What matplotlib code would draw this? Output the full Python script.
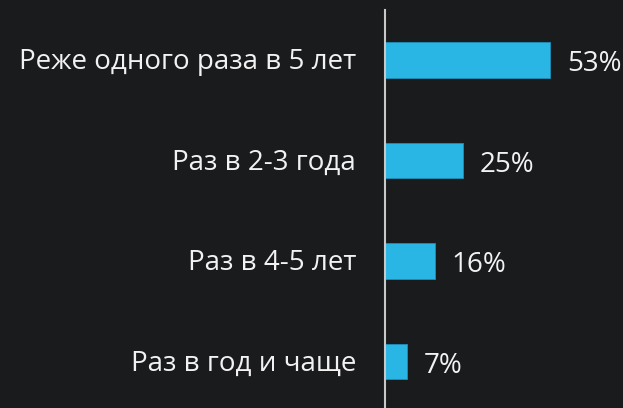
import matplotlib
matplotlib.use("Agg")
import matplotlib.pyplot as plt

categories = ["Реже одного раза в 5 лет", "Раз в 2-3 года", "Раз в 4-5 лет", "Раз в год и чаще"]
values = [53, 25, 16, 7]
labels = ["53%", "25%", "16%", "7%"]

plt.rcParams['font.family'] = ['Open Sans', 'DejaVu Sans']
bg = "#1a1b1d"
fg = "#f2f2f2"
fig = plt.figure(figsize=(6.23, 4.08), dpi=100, facecolor=bg)
ax = fig.add_axes([385/623, 0, 238/623, 398/408], facecolor=bg)

ypos = list(range(len(categories)))
ax.barh(ypos, values, height=0.35, color="#29b6e4", edgecolor="#1f8fb8", linewidth=0.6)
ax.set_ylim(3.463, -0.4975)
ax.set_xlim(0, 76.5)
ax.set_yticks([])
ax.set_xticks([])
for s in ["top", "right", "bottom"]:
    ax.spines[s].set_visible(False)
ax.spines["left"].set_color("#c8c8c8")
ax.spines["left"].set_linewidth(1.5)

pt = 72 / 100  # points per pixel
for y, c in zip(ypos, categories):
    ax.annotate(c, (0, y), xytext=(-29 * pt, -9.5 * pt), textcoords="offset points",
                va="baseline", ha="right", fontsize=20, color=fg, annotation_clip=False)
for y, v, t in zip(ypos, values, labels):
    ax.annotate(t, (v, y), xytext=(17 * pt, -11.5 * pt), textcoords="offset points",
                va="baseline", ha="left", fontsize=20, color=fg, annotation_clip=False)

fig.savefig("out.png", dpi=100, facecolor=bg)
